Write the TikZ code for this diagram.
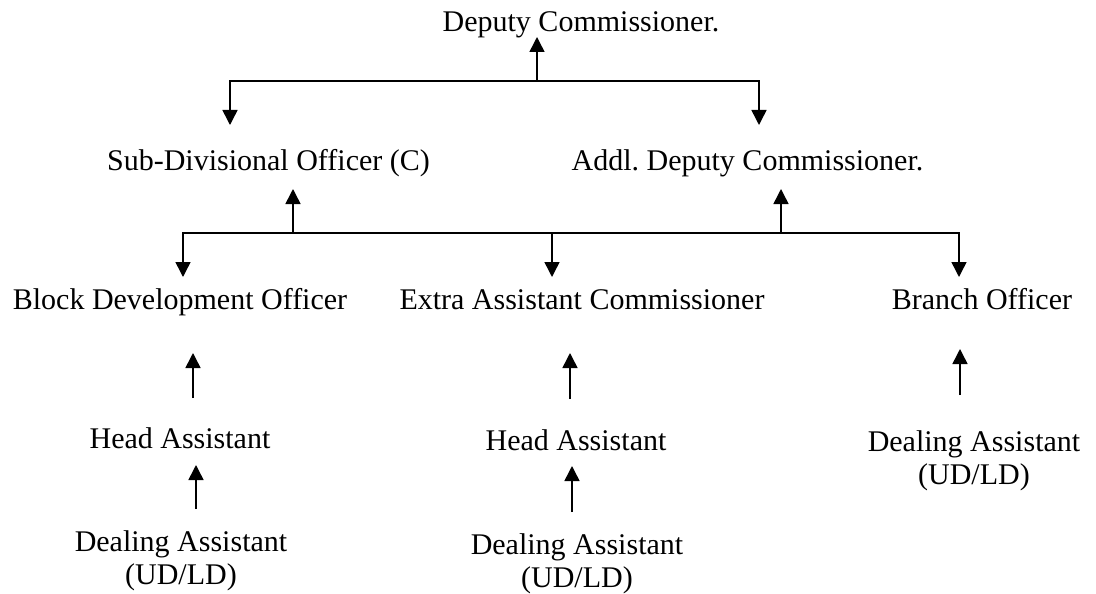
\documentclass[tikz,border=0pt]{standalone}
\usepackage{fontspec}
\setmainfont{Liberation Serif}
\usetikzlibrary{arrows.meta}
\begin{document}
\frenchspacing
\begin{tikzpicture}[x=1pt,y=-1pt,
  lbl/.style={font=\fontsize{30}{33}\selectfont, inner sep=0pt, anchor=base, align=center},
  arr/.style={line width=1.5pt, -{Triangle[width=15pt,length=15pt]}},
  bus/.style={line width=1.5pt}]
\useasboundingbox (0,0) rectangle (1096,594);
% nodes (for two-line nodes the base is the last line's baseline)
\node[lbl] (dc)  at (581,32)  {Deputy Commissioner.};
\node[lbl] (sdo) at (268.5,170) {Sub-Divisional Officer (C)};
\node[lbl] (adc) at (747.5,170) {Addl.\ Deputy Commissioner.};
\node[lbl] (bdo) at (180,309) {Block Development Officer};
\node[lbl] (eac) at (582,309) {Extra Assistant Commissioner};
\node[lbl] (bo)  at (982,309) {Branch Officer};
\node[lbl] (ha1) at (180,448) {Head Assistant};
\node[lbl] (ha2) at (576,450) {Head Assistant};
\node[lbl] (da1) at (181,584) {Dealing Assistant\\(UD/LD)};
\node[lbl] (da2) at (577,587) {Dealing Assistant\\(UD/LD)};
\node[lbl] (da3) at (974,484) {Dealing Assistant\\(UD/LD)};
% junctions and arrow tips
\coordinate (j1) at (537,81);
\coordinate (t1dc) at (537,37);
\coordinate (t1sdo) at (230,125);
\coordinate (t1adc) at (759,125);
\coordinate (j2) at (552,233);
\coordinate (j2s) at (293,233);
\coordinate (j2a) at (781,233);
\coordinate (t2sdo) at (293,189);
\coordinate (t2adc) at (781,189);
\coordinate (t2bdo) at (183,277);
\coordinate (t2eac) at (552,277);
\coordinate (t2bo) at (959,277);
\coordinate (b1) at (193,398);  \coordinate (u1) at (193,353);
\coordinate (b2) at (570,399);  \coordinate (u2) at (570,353);
\coordinate (b3) at (960,395);  \coordinate (u3) at (960,349);
\coordinate (b4) at (196,509);  \coordinate (u4) at (196,465);
\coordinate (b5) at (572,512);  \coordinate (u5) at (572,466);
% connectors
\draw[arr] (j1) -- (t1dc);
\draw[arr] (j1) -| (t1sdo);
\draw[arr] (j1) -| (t1adc);
\draw[arr] (j2) -| (t2bdo);
\draw[arr] (j2) -| (t2bo);
\draw[arr] (j2) -- (t2eac);
\draw[arr] (j2s) -- (t2sdo);
\draw[arr] (j2a) -- (t2adc);
\draw[arr] (b1) -- (u1);
\draw[arr] (b2) -- (u2);
\draw[arr] (b3) -- (u3);
\draw[arr] (b4) -- (u4);
\draw[arr] (b5) -- (u5);
\end{tikzpicture}
\end{document}
